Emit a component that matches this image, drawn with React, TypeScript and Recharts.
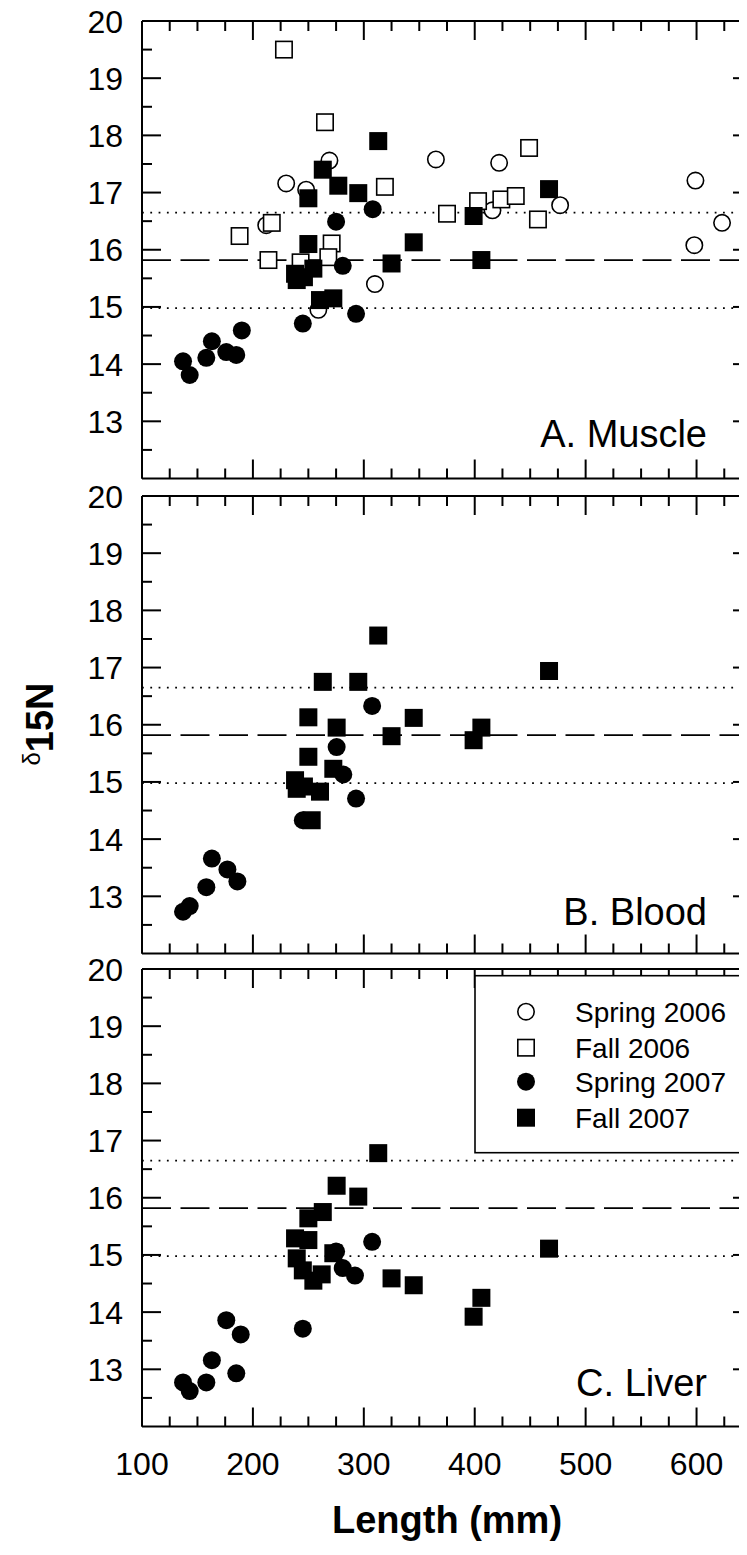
import React from 'react';
import { ScatterChart, Scatter, XAxis, YAxis, ReferenceLine } from 'recharts';

const FONT = '"Liberation Sans", Arial, Helvetica, sans-serif';

// Axis ticks
const xTicks = [100, 125, 150, 175, 200, 225, 250, 275, 300, 325, 350, 375, 400, 425, 450, 475, 500, 525, 550, 575, 600, 625];
const xLabelTicks = [100, 200, 300, 400, 500, 600];
const yTicks = [12.5, 13, 13.5, 14, 14.5, 15, 15.5, 16, 16.5, 17, 17.5, 18, 18.5, 19, 19.5, 20];
const yLabelTicks = [13, 14, 15, 16, 17, 18, 19, 20];
const xDomain: [number, number] = [100, 650];
const yDomain: [number, number] = [12, 20];

// Reference lines (mean and +/- band)
const meanLine = 15.82;
const bandLines = [16.65, 14.98];

// Series names
const seriesNames = ['Spring 2006', 'Fall 2006', 'Spring 2007', 'Fall 2007'];
const panelLabels = ['A. Muscle', 'B. Blood', 'C. Liver'];

type Pt = [number, number];

// A. Muscle
const muscleSpring2006: Pt[] = [
  [230, 17.16], [248, 17.05], [269, 17.56], [212, 16.43], [259, 14.95], [310, 15.4],
  [365, 17.58], [422, 17.52], [416, 16.69], [477, 16.78], [599, 17.21], [623, 16.47], [598, 16.08],
];
const muscleFall2006: Pt[] = [
  [228, 19.5], [265, 18.23], [319, 17.1], [188, 16.24], [217, 16.47], [214, 15.82], [271, 16.11],
  [243, 15.78], [268, 15.87], [375, 16.63], [403, 16.85], [424, 16.88], [437, 16.94], [449, 17.78], [457, 16.53],
];
const muscleSpring2007: Pt[] = [
  [137, 14.05], [143, 13.81], [158, 14.11], [163, 14.4], [176, 14.21], [185, 14.16], [190, 14.59],
  [245, 14.71], [275, 16.49], [281, 15.72], [293, 14.88], [308, 16.71],
];
const muscleFall2007: Pt[] = [
  [313, 17.9], [263, 17.4], [277, 17.12], [295, 16.99], [250, 16.9], [250, 16.1], [238, 15.58],
  [239.5, 15.47], [246, 15.52], [254.5, 15.67], [260.5, 15.12], [272.5, 15.15], [325, 15.76],
  [345, 16.13], [406, 15.82], [399, 16.59], [467, 17.06],
];

// B. Blood
const bloodSpring2007: Pt[] = [
  [137, 12.73], [143, 12.83], [158, 13.16], [163, 13.66], [177, 13.47], [186, 13.26],
  [245, 14.33], [275.5, 15.61], [281.5, 15.13], [293, 14.71], [307.5, 16.33],
];
const bloodFall2007: Pt[] = [
  [313, 17.56], [263, 16.75], [295, 16.75], [250, 16.13], [275.5, 15.95], [250, 15.44], [238, 15.03],
  [239.5, 14.88], [246, 14.92], [260.5, 14.83], [272.5, 15.23], [253, 14.33], [325, 15.8],
  [345, 16.12], [399, 15.73], [406, 15.95], [467, 16.94],
];

// C. Liver
const liverSpring2007: Pt[] = [
  [137, 12.77], [143, 12.62], [158, 12.77], [163, 13.16], [176, 13.86], [185, 12.93], [189, 13.61],
  [245, 13.71], [275, 15.06], [281, 14.77], [292, 14.64], [307.5, 15.23],
];
const liverFall2007: Pt[] = [
  [313, 16.78], [275.5, 16.21], [295, 16.02], [263, 15.75], [250, 15.64], [238, 15.29], [250, 15.26],
  [239.5, 14.94], [245, 14.73], [254.5, 14.55], [262, 14.66], [272.5, 15.03], [325, 14.59],
  [345, 14.47], [406, 14.25], [399, 13.92], [467, 15.11],
];

const rows = (a: Pt[]) => a.map(([x, y]) => ({ x, y }));

// Markers
const OpenCircle = (p: any) => (
  <circle cx={p.cx} cy={p.cy} r={8.2} fill="#fff" stroke="#000" strokeWidth={1.6} />
);
const OpenSquare = (p: any) => (
  <rect x={p.cx - 8.2} y={p.cy - 8.2} width={16.4} height={16.4} fill="#fff" stroke="#000" strokeWidth={1.6} />
);
const FilledCircle = (p: any) => <circle cx={p.cx} cy={p.cy} r={9} fill="#000" />;
const FilledSquare = (p: any) => <rect x={p.cx - 9} y={p.cy - 9} width={18} height={18} fill="#000" />;
const shapes = [OpenCircle, OpenSquare, FilledCircle, FilledSquare];

// Ticks (inward pointing, with minor ticks)
const isMajorY = (v: number) => Number.isInteger(v);
const isMajorX = (v: number) => v % 100 === 0;

const LeftTick = (p: any) => {
  const v = p.payload.value;
  const major = isMajorY(v);
  return (
    <g>
      <line x1={p.x} x2={p.x + (major ? 19 : 10)} y1={p.y} y2={p.y} stroke="#000" strokeWidth={2} />
      {yLabelTicks.includes(v) && (
        <text x={p.x - 19} y={p.y + 11.5} textAnchor="end" fontSize={32} fontFamily={FONT} fill="#000">
          {v}
        </text>
      )}
    </g>
  );
};
const RightTick = (p: any) => {
  const v = p.payload.value;
  const major = isMajorY(v);
  return <line x1={p.x} x2={p.x - (major ? 19 : 10)} y1={p.y} y2={p.y} stroke="#000" strokeWidth={2} />;
};
const TopTick = (p: any) => {
  const v = p.payload.value;
  const major = isMajorX(v);
  return <line x1={p.x} x2={p.x} y1={p.y} y2={p.y + (major ? 19 : 10)} stroke="#000" strokeWidth={2} />;
};
const makeBottomTick = (showLabel: boolean) => (p: any) => {
  const v = p.payload.value;
  const major = isMajorX(v);
  return (
    <g>
      <line x1={p.x} x2={p.x} y1={p.y} y2={p.y - (major ? 19 : 10)} stroke="#000" strokeWidth={2} />
      {showLabel && xLabelTicks.includes(v) && (
        <text x={p.x} y={p.y + 48} textAnchor="middle" fontSize={32} fontFamily={FONT} fill="#000">
          {v}
        </text>
      )}
    </g>
  );
};

const axisLine = { stroke: '#000', strokeWidth: 2 };

type Series = { name: string; data: Pt[]; shape: any };

const PLOT_H = 457.5;
const CHART_W = 754;
const TOP_H = 20;

function Panel({ top, bottomH, series, showX }: { top: number; bottomH: number; series: Series[]; showX: boolean }) {
  const height = TOP_H + PLOT_H + bottomH;
  return (
    <div style={{ position: 'absolute', left: 0, top }}>
      <ScatterChart
        width={CHART_W}
        height={height}
        margin={{ top: 0, right: 0, bottom: 0, left: 0 }}
        style={{ overflow: 'visible' }}
      >
        <XAxis
          xAxisId="top"
          orientation="top"
          type="number"
          dataKey="x"
          domain={xDomain}
          allowDataOverflow
          ticks={xTicks}
          interval={0}
          height={TOP_H}
          tickSize={0}
          tickMargin={0}
          tickLine={false}
          axisLine={axisLine}
          tick={TopTick}
        />
        <XAxis
          type="number"
          dataKey="x"
          domain={xDomain}
          allowDataOverflow
          ticks={xTicks}
          interval={0}
          height={bottomH}
          tickSize={0}
          tickMargin={0}
          tickLine={false}
          axisLine={axisLine}
          tick={makeBottomTick(showX)}
        />
        <YAxis
          type="number"
          dataKey="y"
          domain={yDomain}
          allowDataOverflow
          ticks={yTicks}
          interval={0}
          width={134}
          tickSize={0}
          tickMargin={0}
          tickLine={false}
          axisLine={axisLine}
          tick={LeftTick}
        />
        <YAxis
          yAxisId="right"
          orientation="right"
          type="number"
          dataKey="y"
          domain={yDomain}
          allowDataOverflow
          ticks={yTicks}
          interval={0}
          width={10}
          tickSize={0}
          tickMargin={0}
          tickLine={false}
          axisLine={axisLine}
          tick={RightTick}
        />
        <ReferenceLine y={bandLines[0]} stroke="#000" strokeWidth={1.8} strokeDasharray="1.8 6.5" />
        <ReferenceLine y={bandLines[1]} stroke="#000" strokeWidth={1.8} strokeDasharray="1.8 6.5" />
        <ReferenceLine y={meanLine} stroke="#000" strokeWidth={1.8} strokeDasharray="29 9.5" />
        {series.map((s) => (
          <Scatter key={s.name} name={s.name} data={rows(s.data)} shape={s.shape} isAnimationActive={false} />
        ))}
      </ScatterChart>
    </div>
  );
}

const muscleSeries: Series[] = [
  { name: seriesNames[0], data: muscleSpring2006, shape: OpenCircle },
  { name: seriesNames[1], data: muscleFall2006, shape: OpenSquare },
  { name: seriesNames[2], data: muscleSpring2007, shape: FilledCircle },
  { name: seriesNames[3], data: muscleFall2007, shape: FilledSquare },
];
const bloodSeries: Series[] = [
  { name: seriesNames[2], data: bloodSpring2007, shape: FilledCircle },
  { name: seriesNames[3], data: bloodFall2007, shape: FilledSquare },
];
const liverSeries: Series[] = [
  { name: seriesNames[2], data: liverSpring2007, shape: FilledCircle },
  { name: seriesNames[3], data: liverFall2007, shape: FilledSquare },
];

function Legend() {
  const rowsY = [1003.7, 1039.7, 1073.7, 1109.7];
  return (
    <g>
      <rect x={467} y={967.7} width={300} height={177} fill="#fff" stroke="#000" strokeWidth={1.6} />
      {seriesNames.map((n, i) => {
        const Shape = shapes[i];
        return (
          <g key={n}>
            <Shape cx={518} cy={rowsY[i]} />
            <text x={567} y={rowsY[i] + 10} fontSize={28} fontFamily={FONT} fill="#000">
              {n}
            </text>
          </g>
        );
      })}
    </g>
  );
}

export default function App() {
  return (
    <div
      style={{
        position: 'relative',
        width: 739,
        height: 1539,
        clipPath: 'inset(-8px 0px 0px -8px)',
        background: '#fff',
      }}
    >
      <Panel top={12.7 - TOP_H} bottomH={10} series={muscleSeries} showX={false} />
      <Panel top={487.7 - TOP_H} bottomH={10} series={bloodSeries} showX={false} />
      <Panel top={960.8 - TOP_H} bottomH={120} series={liverSeries} showX={true} />
      <svg
        width={739}
        height={1539}
        style={{ position: 'absolute', left: 0, top: 0, pointerEvents: 'none' }}
      >
        <g fontFamily={FONT} fill="#000">
          <text x={699} y={438.7} fontSize={38} textAnchor="end">{panelLabels[0]}</text>
          <text x={699} y={917} fontSize={38} textAnchor="end">{panelLabels[1]}</text>
          <text x={699} y={1388} fontSize={38} textAnchor="end">{panelLabels[2]}</text>
          <text x={439} y={1525} fontSize={38} fontWeight="bold" textAnchor="middle">Length (mm)</text>
          <text transform="translate(45,716) rotate(-90)" textAnchor="middle">
            <tspan fontSize={24} dy={-13}>δ</tspan>
            <tspan fontSize={38} fontWeight="bold" dy={13}>15N</tspan>
          </text>
        </g>
        <Legend />
      </svg>
    </div>
  );
}
